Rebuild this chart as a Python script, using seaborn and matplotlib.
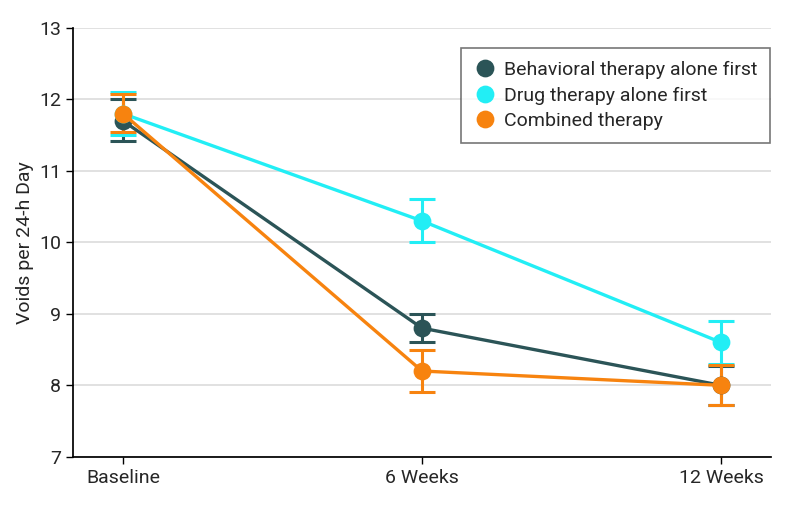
import numpy as np
import pandas as pd
import seaborn as sns
import matplotlib.pyplot as plt

sns.set_theme(context="notebook", style="ticks")
plt.rcParams['font.family'] = ['Roboto', 'DejaVu Sans']

# Data
timepoints = ["Baseline", "6 Weeks", "12 Weeks"]
groups = ["Behavioral therapy alone first", "Drug therapy alone first", "Combined therapy"]
behavioral = [11.7, 8.8, 8.0]
behavioral_lo = [11.42, 8.6, 7.73]
behavioral_hi = [12.0, 9.0, 8.27]
drug = [11.8, 10.3, 8.6]
drug_lo = [11.5, 10.0, 8.3]
drug_hi = [12.1, 10.6, 8.9]
combined = [11.8, 8.2, 8.0]
combined_lo = [11.54, 7.9, 7.72]
combined_hi = [12.07, 8.5, 8.28]

colors = ["#2b5457", "#22eef5", "#f7830f"]

df = pd.DataFrame({
    "time": timepoints * 3,
    "group": np.repeat(groups, 3),
    "voids": behavioral + drug + combined,
    "lo": behavioral_lo + drug_lo + combined_lo,
    "hi": behavioral_hi + drug_hi + combined_hi,
})

fig = plt.figure(figsize=(7.94, 5.07), dpi=100)
ax = fig.add_axes([0.092, 0.099, 0.879, 0.846])

ax.yaxis.grid(True, color="#dedede", linewidth=1.3, zorder=0)

# error bars first so the cyan caps sit under the others like in the figure
for g, c in zip(groups, colors):
    sub = df[df["group"] == g]
    x = np.arange(len(sub))
    ax.errorbar(x, sub["voids"], yerr=[sub["voids"] - sub["lo"], sub["hi"] - sub["voids"]],
                fmt="none", ecolor=c, elinewidth=2.2, capsize=9.5, capthick=2.2, zorder=3)

sns.pointplot(data=df, x="time", y="voids", hue="group", hue_order=groups,
              palette=colors, errorbar=None, markers="o", markersize=11,
              linewidth=2.4, ax=ax, zorder=4)

ax.set_ylim(7, 13)
ax.set_yticks(range(7, 14))
ax.set_xlim(-0.167, 2.167)
ax.set_xlabel("")
ax.set_ylabel("Voids per 24-h Day", fontsize=14)
ax.tick_params(axis="both", labelsize=14, length=5, width=1, color="black")
sns.despine(ax=ax)
ax.spines["left"].set_color("black")
ax.spines["bottom"].set_color("black")

leg = ax.legend(loc="upper right", bbox_to_anchor=(1.012, 0.975), fontsize=14,
                frameon=True, fancybox=False, edgecolor="#555555",
                handletextpad=0.35, borderpad=0.65, labelspacing=0.38, handlelength=1.2)
leg.get_frame().set_linewidth(1.2)
for h in leg.legend_handles:
    h.set_linestyle("none")

fig.savefig("out.png", dpi=100)
